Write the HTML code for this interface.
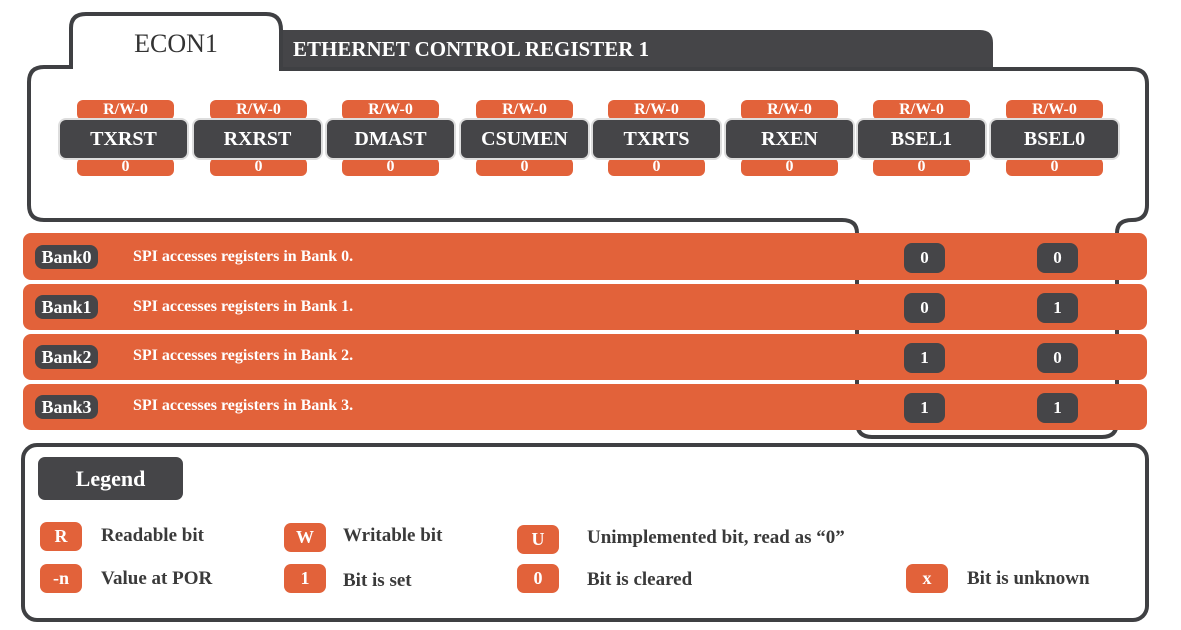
<!DOCTYPE html>
<html><head><meta charset="utf-8"><style>
body{margin:0;width:1181px;height:630px;background:#fff;position:relative;overflow:hidden;font-family:"Liberation Serif",serif;font-weight:bold}
.a{position:absolute}
.or{background:#e2623a;color:#fff}
.dk{background:#454548;color:#fff}
.c{display:flex;align-items:center;justify-content:center}
.t{color:#3a3a3a;font-size:19px}
.ot{font-size:16px}
.bn{font-size:20px;box-shadow:0 0 0 2px #ddd;border-radius:6px;width:127px;height:38px;top:120px}
.tp{top:100px;width:97px;height:20px;border-radius:6px}
.bt{top:158px;width:97px;height:18px;border-radius:6px}
.ds{color:#fff;font-size:16px}
.pv{width:41px;height:30px;border-radius:8px;font-size:17px}
.bk{left:35px;width:63px;height:24px;border-radius:8px;font-size:18px}
.lb{width:42px;height:29px;border-radius:7px;font-size:18px}
</style></head><body>
<svg class="a" style="left:0;top:0" width="1181" height="630">
<path d="M281 30 H980 Q993 30 993 43 V69 H281 Z" fill="#454548"/>
<path d="M857 233 Q857 220 842 220 H44 Q29 220 29 205 V82 Q29 67 44 67 H71 V28 Q71 14 86 14 H266 Q281 14 281 30 V69 H1132 Q1147 69 1147 84 V205 Q1147 220 1132 220 Q1117 220 1117 233 V422 Q1117 437 1102 437 H872 Q857 437 857 422 Z" fill="none" stroke="#3f4043" stroke-width="4"/>
<rect x="23" y="445" width="1124" height="175" rx="14" fill="none" stroke="#3f4043" stroke-width="4"/>
</svg>
<div class="a" style="left:71px;top:29px;width:210px;text-align:center;font-size:26px;color:#333;font-weight:normal">ECON1</div>
<div class="a" style="left:293px;top:37px;font-size:21px;color:#fff">ETHERNET CONTROL REGISTER 1</div>

<div class="a or c tp ot" style="left:77px">R/W-0</div><div class="a or c bt ot" style="left:77px">0</div><div class="a dk c bn" style="left:60px">TXRST</div>
<div class="a or c tp ot" style="left:210px">R/W-0</div><div class="a or c bt ot" style="left:210px">0</div><div class="a dk c bn" style="left:194px">RXRST</div>
<div class="a or c tp ot" style="left:342px">R/W-0</div><div class="a or c bt ot" style="left:342px">0</div><div class="a dk c bn" style="left:327px">DMAST</div>
<div class="a or c tp ot" style="left:476px">R/W-0</div><div class="a or c bt ot" style="left:476px">0</div><div class="a dk c bn" style="left:461px">CSUMEN</div>
<div class="a or c tp ot" style="left:608px">R/W-0</div><div class="a or c bt ot" style="left:608px">0</div><div class="a dk c bn" style="left:593px">TXRTS</div>
<div class="a or c tp ot" style="left:741px">R/W-0</div><div class="a or c bt ot" style="left:741px">0</div><div class="a dk c bn" style="left:726px">RXEN</div>
<div class="a or c tp ot" style="left:873px">R/W-0</div><div class="a or c bt ot" style="left:873px">0</div><div class="a dk c bn" style="left:858px">BSEL1</div>
<div class="a or c tp ot" style="left:1006px">R/W-0</div><div class="a or c bt ot" style="left:1006px">0</div><div class="a dk c bn" style="left:991px">BSEL0</div>

<div class="a or" style="left:23px;top:233px;width:1124px;height:47px;border-radius:8px"></div>
<div class="a or" style="left:23px;top:284px;width:1124px;height:46px;border-radius:8px"></div>
<div class="a or" style="left:23px;top:334px;width:1124px;height:46px;border-radius:8px"></div>
<div class="a or" style="left:23px;top:384px;width:1124px;height:46px;border-radius:8px"></div>

<div class="a dk c bk" style="top:245px">Bank0</div>
<div class="a ds" style="left:133px;top:248px">SPI accesses registers in Bank 0.</div>
<div class="a dk c bk" style="top:295px">Bank1</div>
<div class="a ds" style="left:133px;top:298px">SPI accesses registers in Bank 1.</div>
<div class="a dk c bk" style="top:345px">Bank2</div>
<div class="a ds" style="left:133px;top:347px">SPI accesses registers in Bank 2.</div>
<div class="a dk c bk" style="top:395px">Bank3</div>
<div class="a ds" style="left:133px;top:397px">SPI accesses registers in Bank 3.</div>

<div class="a dk c pv" style="left:904px;top:243px">0</div>
<div class="a dk c pv" style="left:1037px;top:243px">0</div>
<div class="a dk c pv" style="left:904px;top:293px">0</div>
<div class="a dk c pv" style="left:1037px;top:293px">1</div>
<div class="a dk c pv" style="left:904px;top:343px">1</div>
<div class="a dk c pv" style="left:1037px;top:343px">0</div>
<div class="a dk c pv" style="left:904px;top:393px">1</div>
<div class="a dk c pv" style="left:1037px;top:393px">1</div>

<div class="a dk c" style="left:38px;top:457px;width:145px;height:43px;border-radius:7px;font-size:22px">Legend</div>
<div class="a or c lb" style="left:40px;top:522px">R</div>
<div class="a t" style="left:101px;top:525px">Readable bit</div>
<div class="a or c lb" style="left:40px;top:564px">-n</div>
<div class="a t" style="left:101px;top:568px">Value at POR</div>
<div class="a or c lb" style="left:284px;top:523px">W</div>
<div class="a t" style="left:343px;top:525px">Writable bit</div>
<div class="a or c lb" style="left:284px;top:564px">1</div>
<div class="a t" style="left:343px;top:570px">Bit is set</div>
<div class="a or c lb" style="left:517px;top:525px">U</div>
<div class="a t" style="left:587px;top:527px">Unimplemented bit, read as “0”</div>
<div class="a or c lb" style="left:517px;top:564px">0</div>
<div class="a t" style="left:587px;top:569px">Bit is cleared</div>
<div class="a or c lb" style="left:906px;top:564px">x</div>
<div class="a t" style="left:967px;top:568px">Bit is unknown</div>
</body></html>
